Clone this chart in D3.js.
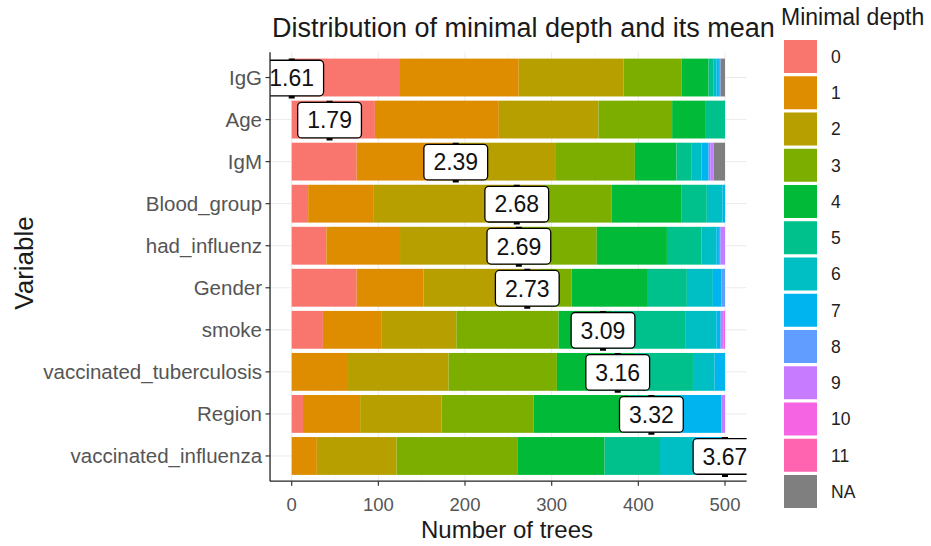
<!DOCTYPE html>
<html><head><meta charset="utf-8">
<script src="https://cdn.jsdelivr.net/npm/d3@7"></script>
<style>
html,body{margin:0;padding:0;background:#fff;}
svg{display:block;font-family:"Liberation Sans",Arial,sans-serif;}
</style></head>
<body>
<svg id="chart" width="931" height="546"></svg>
<script>
const variables = ["IgG","Age","IgM","Blood_group","had_influenz","Gender","smoke","vaccinated_tuberculosis","Region","vaccinated_influenza"];
const meanDepth = [1.61,1.79,2.39,2.68,2.69,2.73,3.09,3.16,3.32,3.67];
const depthLevels = ["0","1","2","3","4","5","6","7","8","9","10","11","NA"];
const depthColors = ["#F8766D","#DE8C00","#B79F00","#7CAE00","#00BA38","#00C08B","#00BFC4","#00B4F0","#619CFF","#C77CFF","#F564E3","#FF64B0","#7F7F7F"];
const depth0  = [125, 96, 75, 19, 40, 75, 36,  0, 13,  0];
const depth1  = [137,143,117, 75, 85, 77, 68, 65, 66, 29];
const depth2  = [121,115,112,196,140,133, 86,116, 94, 92];
const depth3  = [ 67, 85, 92, 79, 87, 38,118,125,106,140];
const depth4  = [ 31, 38, 48, 81, 81, 87, 62, 89,111,100];
const depth5  = [  6, 23, 17, 29, 40, 46, 84, 68, 35, 64];
const depth6  = [  3,  0, 12, 18, 17, 30, 36, 25, 25, 38];
const depth7  = [  3,  0,  8,  3,  3, 10,  5, 12, 46, 37];
const depth8  = [  2,  0,  2,  0,  2,  4,  0,  0,  0,  0];
const depth9  = [  0,  0,  4,  0,  5,  0,  3,  0,  4,  0];
const depth10 = [  0,  0,  0,  0,  0,  0,  2,  0,  0,  0];
const depth11 = [  0,  0,  0,  0,  0,  0,  0,  0,  0,  0];
const depthNA = [  5,  0, 13,  0,  0,  0,  0,  0,  0,  0];
const xTicks = [0,100,200,300,400,500];
const xMinorTicks = [50,150,250,350,450];
const nTrees = 500;

const series = [depth0,depth1,depth2,depth3,depth4,depth5,depth6,depth7,depth8,depth9,depth10,depth11,depthNA];
const rows = variables.map((v,i)=>{
  const r = {variable:v};
  depthLevels.forEach((d,j)=>{ r[d] = series[j][i]; });
  return r;
});
const stacked = d3.stack().keys(depthLevels)(rows);

const svg = d3.select("#chart");
const x = d3.scaleLinear().domain([0,500]).range([291.7,725]);
const panelL = x(-25), panelR = x(525);
const panelT = 52.3, panelB = 481.2;
const y = d3.scaleBand().domain(variables).range([panelT,panelB]).paddingInner(0.1).paddingOuter(0.15);
const color = d3.scaleOrdinal().domain(depthLevels).range(depthColors);

svg.append("defs").append("clipPath").attr("id","panelClip")
  .append("rect").attr("x",panelL).attr("y",panelT-4).attr("width",panelR-panelL).attr("height",panelB-panelT+8);

// grid
const g = svg.append("g");
g.selectAll("line.minor").data(xMinorTicks).join("line")
  .attr("x1",d=>x(d)).attr("x2",d=>x(d)).attr("y1",panelT).attr("y2",panelB)
  .attr("stroke","#f3f3f3").attr("stroke-width",0.6);
g.selectAll("line.majx").data(xTicks).join("line")
  .attr("x1",d=>x(d)).attr("x2",d=>x(d)).attr("y1",panelT).attr("y2",panelB)
  .attr("stroke","#ebebeb").attr("stroke-width",1);
g.selectAll("line.majy").data(variables).join("line")
  .attr("x1",panelL).attr("x2",panelR).attr("y1",d=>y(d)+y.bandwidth()/2).attr("y2",d=>y(d)+y.bandwidth()/2)
  .attr("stroke","#ebebeb").attr("stroke-width",1);

const plot = svg.append("g").attr("clip-path","url(#panelClip)");

// bars
plot.append("g").selectAll("g").data(stacked).join("g")
  .attr("fill",d=>color(d.key))
  .selectAll("rect").data(d=>d).join("rect")
  .attr("x",d=>x(d[0])).attr("width",d=>Math.max(0,x(d[1])-x(d[0])))
  .attr("y",d=>y(d.data.variable)).attr("height",y.bandwidth());

// mean labels
const mn = d3.min(meanDepth), mx = d3.max(meanDepth);
const labelPos = meanDepth.map(m => (m - mn)/(mx - mn)*nTrees);
const lg = plot.append("g");
variables.forEach((v,i)=>{
  const cx = x(labelPos[i]);
  lg.append("line").attr("x1",cx).attr("x2",cx)
    .attr("y1",y(v)).attr("y2",y(v)+y.bandwidth()+2)
    .attr("stroke","#000").attr("stroke-width",6);
});
variables.forEach((v,i)=>{
  const cx = x(labelPos[i]);
  const cy = y(v)+y.bandwidth()/2 + 0.5;
  const t = lg.append("text").attr("x",cx).attr("y",cy).attr("dy","0.36em")
    .attr("text-anchor","middle").attr("font-size",23).attr("fill","#111")
    .text(meanDepth[i].toFixed(2));
  const w = t.node().getComputedTextLength();
  lg.insert("rect","text").attr("x",cx-w/2-9.5).attr("y",cy-17.8).attr("width",w+19).attr("height",35.6)
    .attr("rx",4).attr("fill","#fff").attr("stroke","#000").attr("stroke-width",1.3);
});

// axes lines
svg.append("line").attr("x1",panelL).attr("x2",panelL).attr("y1",panelT).attr("y2",panelB).attr("stroke","#222").attr("stroke-width",1.3);
svg.append("line").attr("x1",panelL).attr("x2",panelR).attr("y1",panelB).attr("y2",panelB).attr("stroke","#222").attr("stroke-width",1.3);

// x ticks
const xa = svg.append("g");
xa.selectAll("line").data(xTicks).join("line")
  .attr("x1",d=>x(d)).attr("x2",d=>x(d)).attr("y1",panelB).attr("y2",panelB+4.5)
  .attr("stroke","#333").attr("stroke-width",1.2);
xa.selectAll("text").data(xTicks).join("text")
  .attr("x",d=>x(d)).attr("y",511).attr("text-anchor","middle")
  .attr("font-size",18.5).attr("fill","#555").text(d=>d);

// y ticks
const ya = svg.append("g");
ya.selectAll("line").data(variables).join("line")
  .attr("x1",panelL-4.5).attr("x2",panelL).attr("y1",d=>y(d)+y.bandwidth()/2).attr("y2",d=>y(d)+y.bandwidth()/2)
  .attr("stroke","#333").attr("stroke-width",1.2);
ya.selectAll("text").data(variables).join("text")
  .attr("x",panelL-8).attr("y",d=>y(d)+y.bandwidth()/2).attr("dy","0.36em").attr("text-anchor","end")
  .attr("font-size",20.5).attr("fill","#555").text(d=>d);

// titles
svg.append("text").attr("x",272).attr("y",37).attr("font-size",27).attr("fill","#1a1a1a")
  .text("Distribution of minimal depth and its mean");
svg.append("text").attr("x",507).attr("y",538).attr("text-anchor","middle")
  .attr("font-size",24).attr("fill","#1a1a1a").text("Number of trees");
svg.append("text").attr("transform",`translate(33,263) rotate(-90)`).attr("text-anchor","middle")
  .attr("font-size",26).attr("fill","#1a1a1a").text("Variable");

// legend
const leg = svg.append("g");
leg.append("text").attr("x",781).attr("y",25).attr("font-size",23).attr("fill","#1a1a1a").text("Minimal depth");
depthLevels.forEach((d,i)=>{
  const ky = 40 + i*36.25;
  leg.append("rect").attr("x",784).attr("y",ky).attr("width",33).attr("height",33).attr("fill",color(d));
  leg.append("text").attr("x",831).attr("y",ky+16.5).attr("dy","0.36em").attr("font-size",17.5).attr("fill","#222").text(d);
});
</script>
</body></html>
